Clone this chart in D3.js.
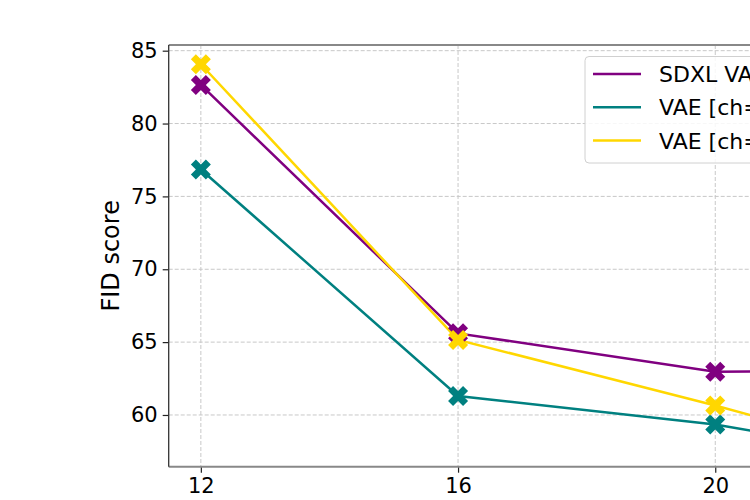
<!DOCTYPE html>
<html><head><meta charset="utf-8">
<script src="https://cdn.jsdelivr.net/npm/d3@7"></script>
<style>body{margin:0;background:#fff;overflow:hidden}svg{display:block;font-family:"DejaVu Sans",sans-serif}</style>
</head><body><svg id="c" width="750" height="500"></svg>
<script>
const xValues = [12, 16, 20, 22];
const seriesNames = ["SDXL VAE", "VAE [ch=16]", "VAE [ch=32]"];
const seriesColors = ["#800080", "#008080", "#FFD700"];
const sdxlVae = [82.65, 65.6, 62.97, 63.05];
const vaeCh16 = [76.85, 61.3, 59.35, 57.8];
const vaeCh32 = [84.07, 65.15, 60.65, 58.25];
const xTicks = [12, 16, 20];
const yTicks = [60, 65, 70, 75, 80, 85];
const yLabel = "FID score";

const series = [sdxlVae, vaeCh16, vaeCh32];
const svg = d3.select("#c");
const L = 168.7, R = 876, T = 45, B = 466.7;
const x = d3.scaleLinear().domain([11.5, 22.5]).range([L, R]);
const y = d3.scaleLinear().domain([56.45, 85.39]).range([B, T]);

// grid
const g = svg.append("g");
g.selectAll("line.gx").data(xTicks).join("line")
  .attr("x1", d => x(d)).attr("x2", d => x(d)).attr("y1", T).attr("y2", B)
  .attr("stroke", "#c8c8c8").attr("stroke-width", 1).attr("stroke-dasharray", "4,2");
g.selectAll("line.gy").data(yTicks).join("line")
  .attr("x1", L).attr("x2", R).attr("y1", d => y(d)).attr("y2", d => y(d))
  .attr("stroke", "#c8c8c8").attr("stroke-width", 1).attr("stroke-dasharray", "4,2");

// axes
const xAxis = svg.append("g").attr("transform", `translate(0,${B})`)
  .call(d3.axisBottom(x).tickValues(xTicks).tickSize(6).tickPadding(5).tickFormat(d3.format("d")));
xAxis.select(".domain").remove();
const yAxis = svg.append("g").attr("transform", `translate(${L},0)`)
  .call(d3.axisLeft(y).tickValues(yTicks).tickSize(6).tickPadding(5).tickFormat(d3.format("d")));
yAxis.select(".domain").remove();
svg.selectAll(".tick text").attr("font-size", 21).attr("fill", "#000").attr("font-family", "DejaVu Sans");
svg.selectAll(".tick line").attr("stroke", "#222").attr("stroke-width", 1.2);

// lines & markers
const line = d3.line().x((d, i) => x(xValues[i])).y(d => y(d));
const cross = d3.symbol().type(d3.symbolCross).size(250);
series.forEach((s, k) => {
  svg.append("path").attr("d", line(s)).attr("fill", "none")
    .attr("stroke", seriesColors[k]).attr("stroke-width", 2.5);
});
series.forEach((s, k) => {
  svg.selectAll(null).data(s).join("path")
    .attr("d", cross)
    .attr("transform", (d, i) => `translate(${x(xValues[i])},${y(d)}) rotate(45)`)
    .attr("fill", seriesColors[k]);
});

// spines
svg.append("line").attr("x1", L).attr("x2", R).attr("y1", T).attr("y2", T).attr("stroke", "#888").attr("stroke-width", 2);
svg.append("line").attr("x1", L).attr("x2", R).attr("y1", B).attr("y2", B).attr("stroke", "#888").attr("stroke-width", 2);
svg.append("line").attr("x1", L).attr("x2", L).attr("y1", T).attr("y2", B).attr("stroke", "#333").attr("stroke-width", 1.3);

// y label
svg.append("text").attr("transform", `translate(119,${(T + B) / 2}) rotate(-90)`)
  .attr("text-anchor", "middle").attr("font-size", 24).attr("fill", "#000").text(yLabel);

// legend
const lg = svg.append("g");
lg.append("rect").attr("x", 585).attr("y", 56.5).attr("width", 300).attr("height", 106.5)
  .attr("rx", 4).attr("fill", "#fff").attr("fill-opacity", 0.85)
  .attr("stroke", "#d0d0d0").attr("stroke-width", 1);
seriesNames.forEach((n, k) => {
  const yy = 74 + k * 33.3;
  lg.append("line").attr("x1", 593).attr("x2", 641).attr("y1", yy).attr("y2", yy)
    .attr("stroke", seriesColors[k]).attr("stroke-width", 2.5);
  lg.append("text").attr("x", 659).attr("y", yy + 8).attr("font-size", 22).attr("fill", "#000").text(n);
});
</script></body></html>
